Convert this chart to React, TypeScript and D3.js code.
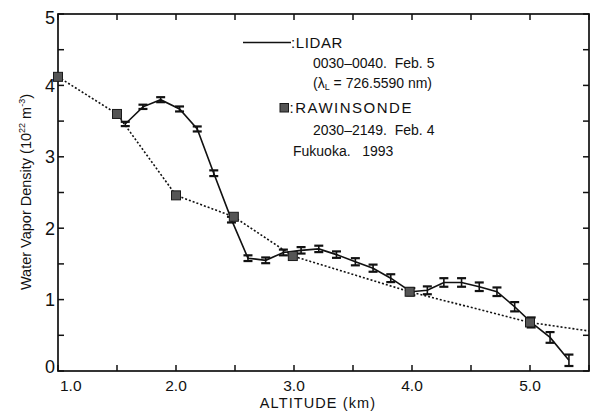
import React from "react";
import * as d3 from "d3";

// ---- data ----
const lidarAlt = [1.57, 1.72, 1.87, 2.03, 2.18, 2.32, 2.47, 2.61, 2.76, 2.91, 3.06, 3.21, 3.36, 3.52, 3.67, 3.82, 3.99, 4.13, 4.27, 4.42, 4.57, 4.72, 4.87, 5.01, 5.17, 5.33];
const lidarVal = [3.46, 3.70, 3.80, 3.67, 3.39, 2.77, 2.12, 1.58, 1.55, 1.66, 1.69, 1.71, 1.63, 1.53, 1.44, 1.30, 1.11, 1.13, 1.24, 1.24, 1.18, 1.11, 0.90, 0.68, 0.47, 0.15];
const lidarErr = [0.03, 0.03, 0.035, 0.035, 0.035, 0.04, 0.04, 0.04, 0.04, 0.04, 0.045, 0.045, 0.045, 0.05, 0.05, 0.055, 0.05, 0.055, 0.06, 0.06, 0.06, 0.06, 0.065, 0.07, 0.075, 0.08];

const rawAlt = [1.0, 1.5, 2.0, 2.49, 2.99, 3.98, 5.0, 5.5];
const rawVal = [4.12, 3.60, 2.46, 2.16, 1.61, 1.11, 0.68, 0.56];

const xTickValues = [1.0, 1.5, 2.0, 2.5, 3.0, 3.5, 4.0, 4.5, 5.0, 5.5];
const xLabelValues = [1.0, 2.0, 3.0, 4.0, 5.0];
const xLabels = ["1.0", "2.0", "3.0", "4.0", "5.0"];
const yTickValues = [0, 0.5, 1, 1.5, 2, 2.5, 3, 3.5, 4, 4.5, 5];
const yLabelValues = [0, 1, 2, 3, 4, 5];
const yLabels = ["0", "1", "2", "3", "4", "5"];

const W = 596;
const H = 413;
const left = 58, right = 589, top = 14, bottom = 371;
const FONT = "'Liberation Sans', Arial, Helvetica, sans-serif";

export default function App() {
  const x = d3.scaleLinear().domain([1.0, 5.5]).range([left, right]);
  const y = d3.scaleLinear().domain([0, 5]).range([bottom, top]);

  const lidarPts = lidarAlt.map((a, i) => [a, lidarVal[i]] as [number, number]);
  const rawPts = rawAlt.map((a, i) => [a, rawVal[i]] as [number, number]);
  const line = d3.line<[number, number]>().x(d => x(d[0])).y(d => y(d[1]));

  const tick = 6;
  const cap = 4.5;
  const sq = 9;

  return (
    <svg width={W} height={H} style={{ position: "fixed", left: 0, top: 0, background: "#fff" }} fontFamily={FONT}>
      <rect x={0} y={0} width={W} height={H} fill="#fff" />
      <defs>
        <clipPath id="plotclip">
          <rect x={left} y={top} width={right - left} height={bottom - top} />
        </clipPath>
      </defs>

      {/* axes frame */}
      <rect x={left} y={top} width={right - left} height={bottom - top} fill="none" stroke="#111" strokeWidth={1.7} />

      {/* x ticks bottom/top */}
      {xTickValues.map((v, i) => (
        <g key={"xt" + i}>
          <line x1={x(v)} x2={x(v)} y1={bottom} y2={bottom - tick} stroke="#111" strokeWidth={1.5} />
          <line x1={x(v)} x2={x(v)} y1={top} y2={top + tick} stroke="#111" strokeWidth={1.5} />
        </g>
      ))}
      {/* y ticks left/right */}
      {yTickValues.map((v, i) => (
        <g key={"yt" + i}>
          <line x1={left} x2={left + tick} y1={y(v)} y2={y(v)} stroke="#111" strokeWidth={1.5} />
          <line x1={right} x2={right - tick} y1={y(v)} y2={y(v)} stroke="#111" strokeWidth={1.5} />
        </g>
      ))}

      {/* x labels */}
      {xLabelValues.map((v, i) => (
        <text key={"xl" + i} x={i === 0 ? x(v) + 2 : x(v)} y={391} fontSize={15.5} textAnchor={i === 0 ? "start" : "middle"} fill="#111">
          {xLabels[i]}
        </text>
      ))}
      {/* y labels */}
      {yLabelValues.map((v, i) => {
        let cy = y(v);
        if (i === 0) cy -= 4;
        if (i === yLabelValues.length - 1) cy += 4;
        return (
          <text key={"yl" + i} x={55} y={cy} dy="0.36em" fontSize={18} textAnchor="end" fill="#111">
            {yLabels[i]}
          </text>
        );
      })}

      {/* axis titles */}
      <text x={318} y={408} fontSize={14.5} textAnchor="middle" fill="#111" letterSpacing={1.1}>
        ALTITUDE (km)
      </text>
      <text transform={`translate(31,192) rotate(-90)`} fontSize={14.5} textAnchor="middle" fill="#111">
        Water Vapor Density (10
        <tspan fontSize={9} dy={-6}>22</tspan>
        <tspan dy={6}> m</tspan>
        <tspan fontSize={9} dy={-6}>-3</tspan>
        <tspan dy={6}>)</tspan>
      </text>

      {/* LIDAR line + error bars */}
      <path d={line(lidarPts) || ""} fill="none" stroke="#111" strokeWidth={1.6} />
      {lidarPts.map((p, i) => {
        const cx = x(p[0]);
        const y1 = y(p[1] + lidarErr[i]);
        const y2 = y(p[1] - lidarErr[i]);
        return (
          <g key={"eb" + i} stroke="#111">
            <line x1={cx} x2={cx} y1={y1} y2={y2} strokeWidth={1.6} />
            <line x1={cx - cap} x2={cx + cap} y1={y1} y2={y1} strokeWidth={2.2} />
            <line x1={cx - cap} x2={cx + cap} y1={y2} y2={y2} strokeWidth={2.2} />
          </g>
        );
      })}

      {/* RAWINSONDE dotted line + squares */}
      <path d={line(rawPts) || ""} fill="none" stroke="#111" strokeWidth={1.6} strokeDasharray="2,2" clipPath="url(#plotclip)" />
      {rawPts.filter(p => p[0] < 5.5).map((p, i) => (
        <rect key={"sq" + i} x={x(p[0]) - sq / 2} y={y(p[1]) - sq / 2} width={sq} height={sq} fill="#555" stroke="#1a1a1a" strokeWidth={1} />
      ))}

      {/* legend */}
      <line x1={243} x2={291} y1={42.5} y2={42.5} stroke="#111" strokeWidth={1.4} />
      <text x={291} y={48} fontSize={15} fill="#111" letterSpacing={0.6}>:LIDAR</text>
      <text x={313} y={68} fontSize={14} fill="#111" xmlSpace="preserve">0030–0040.  Feb. 5</text>
      <text x={313} y={88} fontSize={14} fill="#111" xmlSpace="preserve">
        (λ<tspan fontSize={9} dy={2}>L</tspan><tspan dy={-2}> = 726.5590 nm)</tspan>
      </text>
      <rect x={280} y={103.5} width={8.5} height={8.5} fill="#555" stroke="#1a1a1a" strokeWidth={1} />
      <text x={289.5} y={113} fontSize={15} fill="#111" letterSpacing={1.5}>:RAWINSONDE</text>
      <text x={313} y={135} fontSize={14} fill="#111" xmlSpace="preserve">2030–2149.  Feb. 4</text>
      <text x={293} y={156} fontSize={14} fill="#111" xmlSpace="preserve">Fukuoka.   1993</text>
    </svg>
  );
}
